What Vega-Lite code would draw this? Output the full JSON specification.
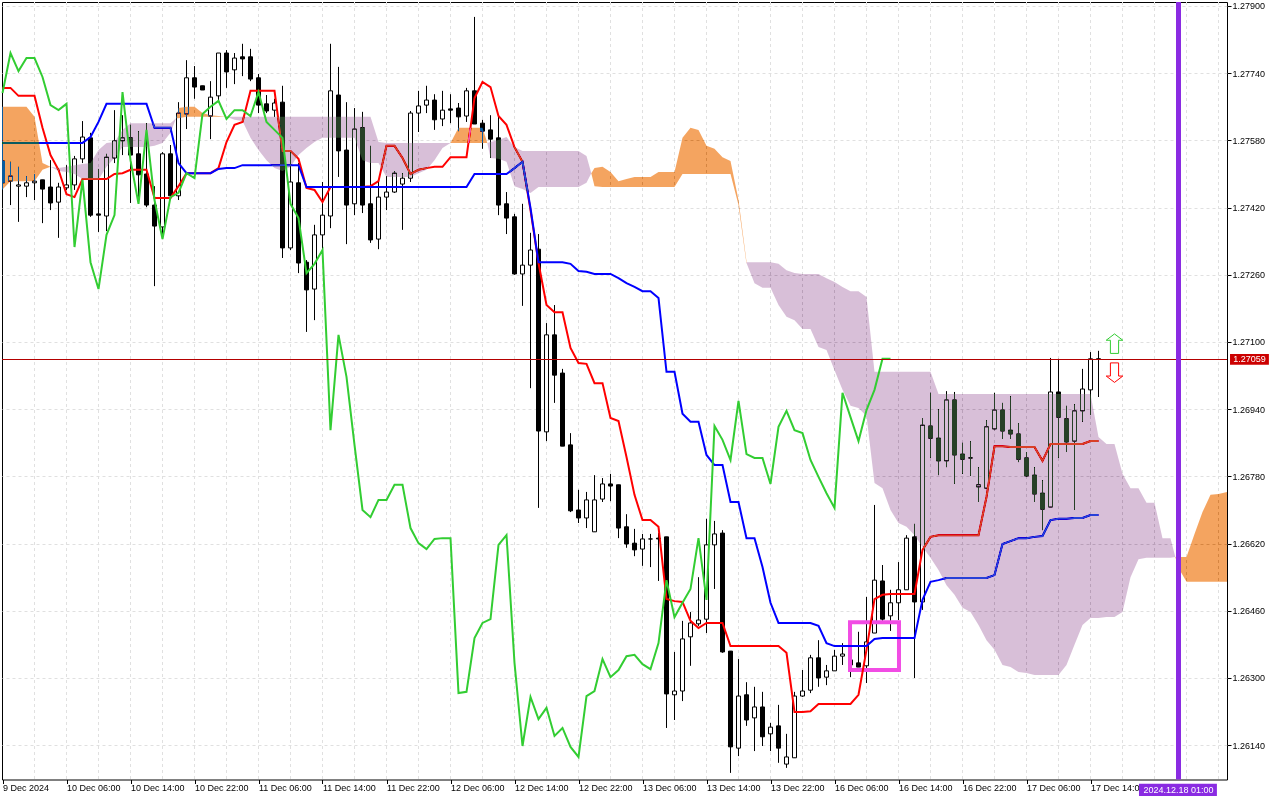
{
"$schema":"https://vega.github.io/schema/vega-lite/v6.json",
"description":"GBP style H1 candles with Ichimoku cloud, recreated from a trading terminal screenshot.",
"width":1225,"height":777.5,
"autosize":"none",
"padding":{"left":2,"top":2,"right":53,"bottom":20.5},
"background":"white",
"view":{"stroke":"black","strokeWidth":1},
"config":{"font":"Liberation Sans","axis":{"labelFont":"Liberation Sans","labelFontSize":9,"labelColor":"black","tickColor":"black"}},
"datasets":{
"candles":[
{"i":-1,"o":1.27531,"h":1.27531,"l":1.27479,"c":1.27479},
{"i":0,"o":1.27483,"h":1.27529,"l":1.27426,"c":1.27495},
{"i":1,"o":1.27471,"h":1.27517,"l":1.27386,"c":1.27474},
{"i":2,"o":1.27471,"h":1.27495,"l":1.27445,"c":1.27479},
{"i":3,"o":1.27479,"h":1.275,"l":1.27438,"c":1.27483},
{"i":4,"o":1.27486,"h":1.27486,"l":1.27383,"c":1.27464},
{"i":5,"o":1.27469,"h":1.27533,"l":1.27414,"c":1.27431},
{"i":6,"o":1.27433,"h":1.27479,"l":1.27348,"c":1.27469},
{"i":7,"o":1.27467,"h":1.27521,"l":1.27462,"c":1.27474},
{"i":8,"o":1.27474,"h":1.27543,"l":1.27462,"c":1.27536},
{"i":9,"o":1.27536,"h":1.27626,"l":1.27526,"c":1.27588},
{"i":10,"o":1.27586,"h":1.27598,"l":1.27398,"c":1.27402},
{"i":11,"o":1.27405,"h":1.27512,"l":1.27362,"c":1.27402},
{"i":12,"o":1.274,"h":1.27548,"l":1.27364,"c":1.2754},
{"i":13,"o":1.27538,"h":1.27652,"l":1.27526,"c":1.27579},
{"i":14,"o":1.27579,"h":1.2764,"l":1.27545,"c":1.27586},
{"i":15,"o":1.27586,"h":1.27617,"l":1.27431,"c":1.27545},
{"i":16,"o":1.27548,"h":1.27602,"l":1.27429,"c":1.27498},
{"i":17,"o":1.275,"h":1.27621,"l":1.27421,"c":1.27426},
{"i":18,"o":1.27426,"h":1.27471,"l":1.27233,"c":1.27376},
{"i":19,"o":1.27374,"h":1.27552,"l":1.27345,"c":1.27548},
{"i":20,"o":1.27548,"h":1.27569,"l":1.27445,"c":1.27448},
{"i":21,"o":1.27448,"h":1.27671,"l":1.27438,"c":1.27645},
{"i":22,"o":1.27643,"h":1.27771,"l":1.27607,"c":1.27729},
{"i":23,"o":1.27729,"h":1.27757,"l":1.27679,"c":1.27707},
{"i":24,"o":1.2771,"h":1.2771,"l":1.277,"c":1.277},
{"i":25,"o":1.27638,"h":1.27721,"l":1.27583,"c":1.27683},
{"i":26,"o":1.27686,"h":1.27788,"l":1.27676,"c":1.27788},
{"i":27,"o":1.27788,"h":1.27795,"l":1.27705,"c":1.27743},
{"i":28,"o":1.27748,"h":1.27788,"l":1.27714,"c":1.27776},
{"i":29,"o":1.27779,"h":1.2781,"l":1.27733,"c":1.27774},
{"i":30,"o":1.27779,"h":1.27798,"l":1.27721,"c":1.27726},
{"i":31,"o":1.27729,"h":1.27738,"l":1.27645,"c":1.27664},
{"i":32,"o":1.27667,"h":1.27688,"l":1.27645,"c":1.2765},
{"i":33,"o":1.27652,"h":1.27679,"l":1.27636,"c":1.27669},
{"i":34,"o":1.27671,"h":1.2771,"l":1.273,"c":1.27324},
{"i":35,"o":1.27324,"h":1.27552,"l":1.27319,"c":1.27481},
{"i":36,"o":1.27479,"h":1.27526,"l":1.27264,"c":1.27288},
{"i":37,"o":1.2729,"h":1.27295,"l":1.27124,"c":1.27224},
{"i":38,"o":1.27226,"h":1.27379,"l":1.27152,"c":1.27355},
{"i":39,"o":1.27355,"h":1.27481,"l":1.27319,"c":1.27402},
{"i":40,"o":1.274,"h":1.2781,"l":1.27371,"c":1.27698},
{"i":41,"o":1.27688,"h":1.27755,"l":1.27493,"c":1.27555},
{"i":42,"o":1.27557,"h":1.27671,"l":1.27333,"c":1.27426},
{"i":43,"o":1.27429,"h":1.27657,"l":1.27402,"c":1.27607},
{"i":44,"o":1.2761,"h":1.27648,"l":1.27407,"c":1.27426},
{"i":45,"o":1.27429,"h":1.27567,"l":1.27336,"c":1.27343},
{"i":46,"o":1.27345,"h":1.27483,"l":1.27321,"c":1.27445},
{"i":47,"o":1.27445,"h":1.27495,"l":1.27414,"c":1.27457},
{"i":48,"o":1.27457,"h":1.27507,"l":1.27455,"c":1.27502},
{"i":49,"o":1.27476,"h":1.27502,"l":1.27367,"c":1.2749},
{"i":50,"o":1.2749,"h":1.2765,"l":1.27481,"c":1.27645},
{"i":51,"o":1.27645,"h":1.27698,"l":1.276,"c":1.27662},
{"i":52,"o":1.27664,"h":1.2771,"l":1.27645,"c":1.27676},
{"i":53,"o":1.27676,"h":1.2769,"l":1.27605,"c":1.27629},
{"i":54,"o":1.27631,"h":1.27698,"l":1.27614,"c":1.27652},
{"i":55,"o":1.27655,"h":1.2769,"l":1.27621,"c":1.27652},
{"i":56,"o":1.27657,"h":1.27669,"l":1.27602,"c":1.27636},
{"i":57,"o":1.27638,"h":1.27705,"l":1.27624,"c":1.27698},
{"i":58,"o":1.27698,"h":1.27874,"l":1.27619,"c":1.27619},
{"i":59,"o":1.27621,"h":1.27629,"l":1.2756,"c":1.27602},
{"i":60,"o":1.27605,"h":1.2764,"l":1.27538,"c":1.27583},
{"i":61,"o":1.27586,"h":1.27636,"l":1.27402,"c":1.27426},
{"i":62,"o":1.27429,"h":1.27457,"l":1.27357,"c":1.27395},
{"i":63,"o":1.27398,"h":1.27405,"l":1.2726,"c":1.27262},
{"i":64,"o":1.27262,"h":1.27429,"l":1.27186,"c":1.27283},
{"i":65,"o":1.27283,"h":1.2736,"l":1.2699,"c":1.27319},
{"i":66,"o":1.27321,"h":1.27357,"l":1.26705,"c":1.26888},
{"i":67,"o":1.26886,"h":1.27145,"l":1.26864,"c":1.27117},
{"i":68,"o":1.27117,"h":1.27188,"l":1.26955,"c":1.27021},
{"i":69,"o":1.27026,"h":1.27036,"l":1.26852,"c":1.26852},
{"i":70,"o":1.26855,"h":1.26883,"l":1.26695,"c":1.26698},
{"i":71,"o":1.267,"h":1.26748,"l":1.26669,"c":1.26681},
{"i":72,"o":1.26681,"h":1.26743,"l":1.26657,"c":1.26724},
{"i":73,"o":1.26648,"h":1.26783,"l":1.26648,"c":1.26724},
{"i":74,"o":1.26726,"h":1.26776,"l":1.26719,"c":1.26762},
{"i":75,"o":1.26762,"h":1.26786,"l":1.26721,"c":1.26757},
{"i":76,"o":1.2676,"h":1.2676,"l":1.26633,"c":1.26657},
{"i":77,"o":1.2666,"h":1.2669,"l":1.2661,"c":1.26619},
{"i":78,"o":1.26621,"h":1.26655,"l":1.2659,"c":1.26605},
{"i":79,"o":1.26607,"h":1.26643,"l":1.26567,"c":1.26631},
{"i":80,"o":1.26631,"h":1.26643,"l":1.26564,"c":1.26631},
{"i":81,"o":1.26633,"h":1.26645,"l":1.26531,"c":1.26631},
{"i":82,"o":1.26636,"h":1.26636,"l":1.26181,"c":1.26262},
{"i":83,"o":1.2626,"h":1.26362,"l":1.262,"c":1.26269},
{"i":84,"o":1.26269,"h":1.26436,"l":1.26245,"c":1.26393},
{"i":85,"o":1.26398,"h":1.26457,"l":1.26329,"c":1.26431},
{"i":86,"o":1.26429,"h":1.2654,"l":1.26424,"c":1.26438},
{"i":87,"o":1.2644,"h":1.26679,"l":1.26407,"c":1.26617},
{"i":88,"o":1.26617,"h":1.26674,"l":1.26512,"c":1.26643},
{"i":89,"o":1.26645,"h":1.26652,"l":1.2636,"c":1.26362},
{"i":90,"o":1.26364,"h":1.26364,"l":1.26074,"c":1.26136},
{"i":91,"o":1.26133,"h":1.26345,"l":1.26114,"c":1.26257},
{"i":92,"o":1.2626,"h":1.2629,"l":1.26186,"c":1.262},
{"i":93,"o":1.26205,"h":1.26279,"l":1.26126,"c":1.26231},
{"i":94,"o":1.26231,"h":1.26267,"l":1.26138,"c":1.2616},
{"i":95,"o":1.26167,"h":1.26193,"l":1.26126,"c":1.26183},
{"i":96,"o":1.26186,"h":1.26236,"l":1.26098,"c":1.26133},
{"i":97,"o":1.26095,"h":1.26167,"l":1.26086,"c":1.26112},
{"i":98,"o":1.2611,"h":1.26267,"l":1.2611,"c":1.26257},
{"i":99,"o":1.26257,"h":1.26319,"l":1.26255,"c":1.26269},
{"i":100,"o":1.26271,"h":1.26355,"l":1.26264,"c":1.26348},
{"i":101,"o":1.26348,"h":1.2639,"l":1.26279,"c":1.263},
{"i":102,"o":1.26302,"h":1.26331,"l":1.26283,"c":1.26317},
{"i":103,"o":1.26317,"h":1.26367,"l":1.26317,"c":1.26352},
{"i":104,"o":1.26352,"h":1.26383,"l":1.26331,"c":1.26357},
{"i":105,"o":1.26343,"h":1.26379,"l":1.26302,"c":1.26331},
{"i":106,"o":1.26336,"h":1.2641,"l":1.26326,"c":1.26326},
{"i":107,"o":1.26329,"h":1.26493,"l":1.26288,"c":1.26386},
{"i":108,"o":1.26407,"h":1.26712,"l":1.26407,"c":1.26533},
{"i":109,"o":1.26531,"h":1.26569,"l":1.26436,"c":1.2644},
{"i":110,"o":1.26448,"h":1.2651,"l":1.26412,"c":1.26479},
{"i":111,"o":1.26479,"h":1.26576,"l":1.26438,"c":1.2651},
{"i":112,"o":1.2651,"h":1.2664,"l":1.2651,"c":1.26633},
{"i":113,"o":1.26636,"h":1.26667,"l":1.263,"c":1.26481},
{"i":114,"o":1.26481,"h":1.26919,"l":1.26462,"c":1.26902},
{"i":115,"o":1.269,"h":1.26979,"l":1.26824,"c":1.26871},
{"i":116,"o":1.26871,"h":1.2694,"l":1.26783,"c":1.26817},
{"i":117,"o":1.26817,"h":1.26983,"l":1.26802,"c":1.26962},
{"i":118,"o":1.26962,"h":1.26981,"l":1.26762,"c":1.26831},
{"i":119,"o":1.26833,"h":1.2686,"l":1.26786,"c":1.26821},
{"i":120,"o":1.26824,"h":1.26864,"l":1.26781,"c":1.26824},
{"i":121,"o":1.26755,"h":1.26802,"l":1.26719,"c":1.2676},
{"i":122,"o":1.26752,"h":1.26914,"l":1.26752,"c":1.26898},
{"i":123,"o":1.26893,"h":1.26979,"l":1.2689,"c":1.26938},
{"i":124,"o":1.26938,"h":1.26955,"l":1.26869,"c":1.26888},
{"i":125,"o":1.2689,"h":1.26971,"l":1.26869,"c":1.26881},
{"i":126,"o":1.26881,"h":1.26907,"l":1.26814,"c":1.26821},
{"i":127,"o":1.26824,"h":1.26838,"l":1.26779,"c":1.26781},
{"i":128,"o":1.26783,"h":1.26802,"l":1.26719,"c":1.26738},
{"i":129,"o":1.2674,"h":1.26771,"l":1.26652,"c":1.26702},
{"i":130,"o":1.26707,"h":1.27062,"l":1.26707,"c":1.26981},
{"i":131,"o":1.26981,"h":1.2706,"l":1.26824,"c":1.26921},
{"i":132,"o":1.26917,"h":1.26948,"l":1.26838,"c":1.26862},
{"i":133,"o":1.26864,"h":1.26952,"l":1.267,"c":1.26936},
{"i":134,"o":1.26936,"h":1.27036,"l":1.2691,"c":1.26988},
{"i":135,"o":1.26986,"h":1.27076,"l":1.26926,"c":1.2706},
{"i":136,"o":1.2706,"h":1.27079,"l":1.26969,"c":1.27059}
],
"tenkan":[
{"i":-1,"v":1.27705},{"i":0,"v":1.27705},{"i":1,"v":1.27686},{"i":2,"v":1.27686},{"i":3,"v":1.27686},{"i":4,"v":1.2761},{"i":5,"v":1.27545},{"i":6,"v":1.2751},{"i":7,"v":1.27452},{"i":8,"v":1.27445},{"i":9,"v":1.27488},{"i":10,"v":1.27488},{"i":11,"v":1.27488},{"i":12,"v":1.27488},{"i":13,"v":1.275},{"i":14,"v":1.27502},{"i":15,"v":1.2751},{"i":16,"v":1.2751},{"i":17,"v":1.2751},{"i":18,"v":1.27443},{"i":19,"v":1.27443},{"i":20,"v":1.27443},{"i":21,"v":1.27471},{"i":22,"v":1.27502},{"i":23,"v":1.27502},{"i":24,"v":1.27502},{"i":25,"v":1.27502},{"i":26,"v":1.27514},{"i":27,"v":1.27576},{"i":28,"v":1.27617},{"i":29,"v":1.27624},{"i":30,"v":1.27698},{"i":31,"v":1.27698},{"i":32,"v":1.27698},{"i":33,"v":1.27698},{"i":34,"v":1.27555},{"i":35,"v":1.27555},{"i":36,"v":1.27536},{"i":37,"v":1.27467},{"i":38,"v":1.27462},{"i":39,"v":1.27433},{"i":40,"v":1.27469},{"i":41,"v":1.27469},{"i":42,"v":1.27469},{"i":43,"v":1.27469},{"i":44,"v":1.27469},{"i":45,"v":1.27471},{"i":46,"v":1.27483},{"i":47,"v":1.27567},{"i":48,"v":1.27567},{"i":49,"v":1.27538},{"i":50,"v":1.275},{"i":51,"v":1.2751},{"i":52,"v":1.27514},{"i":53,"v":1.27517},{"i":54,"v":1.27517},{"i":55,"v":1.2754},{"i":56,"v":1.2754},{"i":57,"v":1.2754},{"i":58,"v":1.27681},{"i":59,"v":1.27719},{"i":60,"v":1.27707},{"i":61,"v":1.27638},{"i":62,"v":1.27617},{"i":63,"v":1.27564},{"i":64,"v":1.27529},{"i":65,"v":1.27414},{"i":66,"v":1.27288},{"i":67,"v":1.27188},{"i":68,"v":1.27171},{"i":69,"v":1.27171},{"i":70,"v":1.27086},{"i":71,"v":1.2705},{"i":72,"v":1.27048},{"i":73,"v":1.27002},{"i":74,"v":1.27002},{"i":75,"v":1.26919},{"i":76,"v":1.26912},{"i":77,"v":1.26826},{"i":78,"v":1.26736},{"i":79,"v":1.26676},{"i":80,"v":1.26676},{"i":81,"v":1.2666},{"i":82,"v":1.26488},{"i":83,"v":1.26483},{"i":84,"v":1.26481},{"i":85,"v":1.26436},{"i":86,"v":1.26419},{"i":87,"v":1.26431},{"i":88,"v":1.26431},{"i":89,"v":1.26431},{"i":90,"v":1.26376},{"i":91,"v":1.26376},{"i":92,"v":1.26376},{"i":93,"v":1.26376},{"i":94,"v":1.26376},{"i":95,"v":1.26376},{"i":96,"v":1.26376},{"i":97,"v":1.2636},{"i":98,"v":1.26219},{"i":99,"v":1.26219},{"i":100,"v":1.26221},{"i":101,"v":1.26238},{"i":102,"v":1.26238},{"i":103,"v":1.26238},{"i":104,"v":1.26238},{"i":105,"v":1.26238},{"i":106,"v":1.2626},{"i":107,"v":1.26367},{"i":108,"v":1.26488},{"i":109,"v":1.26498},{"i":110,"v":1.265},{"i":111,"v":1.265},{"i":112,"v":1.265},{"i":113,"v":1.265},{"i":114,"v":1.26605},{"i":115,"v":1.26636},{"i":116,"v":1.2664},{"i":117,"v":1.2664},{"i":118,"v":1.2664},{"i":119,"v":1.2664},{"i":120,"v":1.2664},{"i":121,"v":1.2664},{"i":122,"v":1.26731},{"i":123,"v":1.26852},{"i":124,"v":1.26852},{"i":125,"v":1.2685},{"i":126,"v":1.2685},{"i":127,"v":1.2685},{"i":128,"v":1.2685},{"i":129,"v":1.26817},{"i":130,"v":1.26857},{"i":131,"v":1.26857},{"i":132,"v":1.26857},{"i":133,"v":1.26857},{"i":134,"v":1.26857},{"i":135,"v":1.26864},{"i":136,"v":1.26864}
],
"kijun":[
{"i":-1,"v":1.27574},{"i":0,"v":1.27574},{"i":1,"v":1.27574},{"i":2,"v":1.27574},{"i":3,"v":1.27574},{"i":4,"v":1.27574},{"i":5,"v":1.27574},{"i":6,"v":1.27574},{"i":7,"v":1.27574},{"i":8,"v":1.27574},{"i":9,"v":1.27574},{"i":10,"v":1.27588},{"i":11,"v":1.27624},{"i":12,"v":1.27667},{"i":13,"v":1.27667},{"i":14,"v":1.27667},{"i":15,"v":1.27667},{"i":16,"v":1.27667},{"i":17,"v":1.27667},{"i":18,"v":1.2761},{"i":19,"v":1.2761},{"i":20,"v":1.2761},{"i":21,"v":1.27526},{"i":22,"v":1.27502},{"i":23,"v":1.27502},{"i":24,"v":1.27502},{"i":25,"v":1.27502},{"i":26,"v":1.27512},{"i":27,"v":1.27514},{"i":28,"v":1.27514},{"i":29,"v":1.27521},{"i":30,"v":1.27521},{"i":31,"v":1.27521},{"i":32,"v":1.27521},{"i":33,"v":1.27521},{"i":34,"v":1.27521},{"i":35,"v":1.27521},{"i":36,"v":1.27521},{"i":37,"v":1.27469},{"i":38,"v":1.27469},{"i":39,"v":1.27469},{"i":40,"v":1.27469},{"i":41,"v":1.27469},{"i":42,"v":1.27469},{"i":43,"v":1.27469},{"i":44,"v":1.27469},{"i":45,"v":1.27469},{"i":46,"v":1.27469},{"i":47,"v":1.27469},{"i":48,"v":1.27469},{"i":49,"v":1.27469},{"i":50,"v":1.27469},{"i":51,"v":1.27469},{"i":52,"v":1.27469},{"i":53,"v":1.27469},{"i":54,"v":1.27469},{"i":55,"v":1.27469},{"i":56,"v":1.27469},{"i":57,"v":1.27469},{"i":58,"v":1.275},{"i":59,"v":1.275},{"i":60,"v":1.275},{"i":61,"v":1.275},{"i":62,"v":1.275},{"i":63,"v":1.27514},{"i":64,"v":1.27529},{"i":65,"v":1.27419},{"i":66,"v":1.2729},{"i":67,"v":1.2729},{"i":68,"v":1.2729},{"i":69,"v":1.2729},{"i":70,"v":1.27286},{"i":71,"v":1.27269},{"i":72,"v":1.27267},{"i":73,"v":1.27262},{"i":74,"v":1.27262},{"i":75,"v":1.27262},{"i":76,"v":1.27252},{"i":77,"v":1.2724},{"i":78,"v":1.27231},{"i":79,"v":1.27221},{"i":80,"v":1.27221},{"i":81,"v":1.27205},{"i":82,"v":1.27029},{"i":83,"v":1.27029},{"i":84,"v":1.26929},{"i":85,"v":1.2691},{"i":86,"v":1.2691},{"i":87,"v":1.26831},{"i":88,"v":1.26807},{"i":89,"v":1.26807},{"i":90,"v":1.26719},{"i":91,"v":1.26719},{"i":92,"v":1.26633},{"i":93,"v":1.26633},{"i":94,"v":1.26564},{"i":95,"v":1.26479},{"i":96,"v":1.26431},{"i":97,"v":1.26431},{"i":98,"v":1.26431},{"i":99,"v":1.26431},{"i":100,"v":1.26431},{"i":101,"v":1.26424},{"i":102,"v":1.26383},{"i":103,"v":1.26376},{"i":104,"v":1.26376},{"i":105,"v":1.26376},{"i":106,"v":1.26376},{"i":107,"v":1.26376},{"i":108,"v":1.26393},{"i":109,"v":1.26395},{"i":110,"v":1.26395},{"i":111,"v":1.26395},{"i":112,"v":1.26395},{"i":113,"v":1.26395},{"i":114,"v":1.26486},{"i":115,"v":1.26529},{"i":116,"v":1.26533},{"i":117,"v":1.26538},{"i":118,"v":1.26538},{"i":119,"v":1.26538},{"i":120,"v":1.26538},{"i":121,"v":1.26538},{"i":122,"v":1.26538},{"i":123,"v":1.26545},{"i":124,"v":1.26619},{"i":125,"v":1.26626},{"i":126,"v":1.26633},{"i":127,"v":1.26633},{"i":128,"v":1.26636},{"i":129,"v":1.26638},{"i":130,"v":1.26676},{"i":131,"v":1.26679},{"i":132,"v":1.26679},{"i":133,"v":1.26681},{"i":134,"v":1.26681},{"i":135,"v":1.26688},{"i":136,"v":1.26688}
],
"chikou":[
{"i":-1,"v":1.27693},{"i":0,"v":1.27788},{"i":1,"v":1.27745},{"i":2,"v":1.27776},{"i":3,"v":1.27776},{"i":4,"v":1.27731},{"i":5,"v":1.27664},{"i":6,"v":1.27652},{"i":7,"v":1.27667},{"i":8,"v":1.27326},{"i":9,"v":1.27486},{"i":10,"v":1.2729},{"i":11,"v":1.27226},{"i":12,"v":1.27355},{"i":13,"v":1.27402},{"i":14,"v":1.27695},{"i":15,"v":1.27533},{"i":16,"v":1.27429},{"i":17,"v":1.27605},{"i":18,"v":1.27438},{"i":19,"v":1.27345},{"i":20,"v":1.27445},{"i":21,"v":1.27455},{"i":22,"v":1.27502},{"i":23,"v":1.2749},{"i":24,"v":1.27643},{"i":25,"v":1.2766},{"i":26,"v":1.27674},{"i":27,"v":1.27631},{"i":28,"v":1.27652},{"i":29,"v":1.27652},{"i":30,"v":1.27638},{"i":31,"v":1.27695},{"i":32,"v":1.27624},{"i":33,"v":1.27605},{"i":34,"v":1.27586},{"i":35,"v":1.27429},{"i":36,"v":1.27395},{"i":37,"v":1.27264},{"i":38,"v":1.27286},{"i":39,"v":1.27319},{"i":40,"v":1.2689},{"i":41,"v":1.27117},{"i":42,"v":1.27017},{"i":43,"v":1.26855},{"i":44,"v":1.267},{"i":45,"v":1.26683},{"i":46,"v":1.26724},{"i":47,"v":1.26724},{"i":48,"v":1.2676},{"i":49,"v":1.2676},{"i":50,"v":1.26657},{"i":51,"v":1.26621},{"i":52,"v":1.26607},{"i":53,"v":1.26631},{"i":54,"v":1.26633},{"i":55,"v":1.26633},{"i":56,"v":1.26264},{"i":57,"v":1.26267},{"i":58,"v":1.26395},{"i":59,"v":1.26431},{"i":60,"v":1.2644},{"i":61,"v":1.26617},{"i":62,"v":1.2664},{"i":63,"v":1.26336},{"i":64,"v":1.26138},{"i":65,"v":1.26255},{"i":66,"v":1.26202},{"i":67,"v":1.26229},{"i":68,"v":1.26162},{"i":69,"v":1.26181},{"i":70,"v":1.26136},{"i":71,"v":1.26112},{"i":72,"v":1.26257},{"i":73,"v":1.26269},{"i":74,"v":1.26345},{"i":75,"v":1.26302},{"i":76,"v":1.26319},{"i":77,"v":1.26352},{"i":78,"v":1.26355},{"i":79,"v":1.26333},{"i":80,"v":1.26321},{"i":81,"v":1.26383},{"i":82,"v":1.26533},{"i":83,"v":1.26445},{"i":84,"v":1.26479},{"i":85,"v":1.26512},{"i":86,"v":1.26633},{"i":87,"v":1.26486},{"i":88,"v":1.269},{"i":89,"v":1.26867},{"i":90,"v":1.26819},{"i":91,"v":1.2696},{"i":92,"v":1.26833},{"i":93,"v":1.26824},{"i":94,"v":1.26824},{"i":95,"v":1.26762},{"i":96,"v":1.26898},{"i":97,"v":1.26936},{"i":98,"v":1.2689},{"i":99,"v":1.26883},{"i":100,"v":1.26819},{"i":101,"v":1.26779},{"i":102,"v":1.2674},{"i":103,"v":1.26705},{"i":104,"v":1.26979},{"i":105,"v":1.26921},{"i":106,"v":1.26864},{"i":107,"v":1.26938},{"i":108,"v":1.26986},{"i":109,"v":1.2706},{"i":110,"v":1.2706}
],
"cloud":[
{"seg":1,"k":"bull","i":-1.06,"a":1.2766,"b":1.27462},{"seg":1,"k":"bull","i":0,"a":1.2766,"b":1.27483},{"seg":1,"k":"bull","i":1,"a":1.2766,"b":1.27483},{"seg":1,"k":"bull","i":2,"a":1.2766,"b":1.27483},{"seg":1,"k":"bull","i":3,"a":1.27636,"b":1.27483},{"seg":1,"k":"bull","i":4,"a":1.27526,"b":1.2751},{"seg":1,"k":"bull","i":5,"a":1.27517,"b":1.27517},
{"seg":2,"k":"bear","i":5,"a":1.27517,"b":1.27517},{"seg":2,"k":"bear","i":6,"a":1.27514,"b":1.27507},{"seg":2,"k":"bear","i":7,"a":1.27517,"b":1.27505},{"seg":2,"k":"bear","i":8,"a":1.27521,"b":1.275},{"seg":2,"k":"bear","i":9,"a":1.27524,"b":1.27488},{"seg":2,"k":"bear","i":10,"a":1.27526,"b":1.27486},{"seg":2,"k":"bear","i":11,"a":1.27557,"b":1.27486},{"seg":2,"k":"bear","i":12,"a":1.27574,"b":1.27517},{"seg":2,"k":"bear","i":13,"a":1.27576,"b":1.27538},{"seg":2,"k":"bear","i":14,"a":1.27605,"b":1.27564},{"seg":2,"k":"bear","i":15,"a":1.27621,"b":1.27564},{"seg":2,"k":"bear","i":16,"a":1.27621,"b":1.27564},{"seg":2,"k":"bear","i":17,"a":1.27621,"b":1.27564},{"seg":2,"k":"bear","i":18,"a":1.27621,"b":1.27567},{"seg":2,"k":"bear","i":19,"a":1.27621,"b":1.27574},{"seg":2,"k":"bear","i":20,"a":1.27621,"b":1.27598},{"seg":2,"k":"bear","i":20.7,"a":1.27633,"b":1.27633},
{"seg":3,"k":"bull","i":20.7,"a":1.27633,"b":1.27633},{"seg":3,"k":"bull","i":21,"a":1.27657,"b":1.27633},{"seg":3,"k":"bull","i":22,"a":1.2766,"b":1.27636},{"seg":3,"k":"bull","i":23,"a":1.2766,"b":1.27636},{"seg":3,"k":"bull","i":24,"a":1.27645,"b":1.27636},{"seg":3,"k":"bull","i":25,"a":1.2764,"b":1.27636},{"seg":3,"k":"bull","i":26,"a":1.27638,"b":1.27636},{"seg":3,"k":"bull","i":27,"a":1.27636,"b":1.27636},
{"seg":4,"k":"bear","i":27,"a":1.27636,"b":1.27636},{"seg":4,"k":"bear","i":28,"a":1.27636,"b":1.27629},{"seg":4,"k":"bear","i":29,"a":1.27636,"b":1.27626},{"seg":4,"k":"bear","i":30,"a":1.27636,"b":1.27586},{"seg":4,"k":"bear","i":31,"a":1.27636,"b":1.27557},{"seg":4,"k":"bear","i":32,"a":1.27636,"b":1.27533},{"seg":4,"k":"bear","i":33,"a":1.27636,"b":1.27514},{"seg":4,"k":"bear","i":34,"a":1.27636,"b":1.27507},{"seg":4,"k":"bear","i":35,"a":1.27636,"b":1.27517},{"seg":4,"k":"bear","i":36,"a":1.27636,"b":1.27545},{"seg":4,"k":"bear","i":37,"a":1.27636,"b":1.27562},{"seg":4,"k":"bear","i":38,"a":1.27636,"b":1.27576},{"seg":4,"k":"bear","i":39,"a":1.27636,"b":1.27586},{"seg":4,"k":"bear","i":40,"a":1.27636,"b":1.27586},{"seg":4,"k":"bear","i":41,"a":1.27636,"b":1.27586},{"seg":4,"k":"bear","i":42,"a":1.27636,"b":1.27586},{"seg":4,"k":"bear","i":43,"a":1.27636,"b":1.27586},{"seg":4,"k":"bear","i":44,"a":1.27636,"b":1.27533},{"seg":4,"k":"bear","i":45,"a":1.27636,"b":1.27526},{"seg":4,"k":"bear","i":46,"a":1.27576,"b":1.27526},{"seg":4,"k":"bear","i":47,"a":1.27574,"b":1.27493},{"seg":4,"k":"bear","i":48,"a":1.27574,"b":1.27493},{"seg":4,"k":"bear","i":49,"a":1.27574,"b":1.27493},{"seg":4,"k":"bear","i":50,"a":1.27574,"b":1.27493},{"seg":4,"k":"bear","i":51,"a":1.27574,"b":1.27502},{"seg":4,"k":"bear","i":52,"a":1.27574,"b":1.2751},{"seg":4,"k":"bear","i":53,"a":1.27574,"b":1.27533},{"seg":4,"k":"bear","i":54,"a":1.27574,"b":1.27562},{"seg":4,"k":"bear","i":55,"a":1.27574,"b":1.27574},
{"seg":5,"k":"bull","i":55,"a":1.27574,"b":1.27574},{"seg":5,"k":"bull","i":56,"a":1.2761,"b":1.27574},{"seg":5,"k":"bull","i":57,"a":1.2761,"b":1.27574},{"seg":5,"k":"bull","i":58,"a":1.2761,"b":1.27574},{"seg":5,"k":"bull","i":59,"a":1.2761,"b":1.27574},{"seg":5,"k":"bull","i":59.6,"a":1.27574,"b":1.27574},
{"seg":6,"k":"bear","i":59.6,"a":1.27574,"b":1.27574},{"seg":6,"k":"bear","i":60,"a":1.27576,"b":1.27538},{"seg":6,"k":"bear","i":61,"a":1.27581,"b":1.27536},{"seg":6,"k":"bear","i":62,"a":1.27588,"b":1.27529},{"seg":6,"k":"bear","i":63,"a":1.27564,"b":1.27471},{"seg":6,"k":"bear","i":64,"a":1.27555,"b":1.27464},{"seg":6,"k":"bear","i":65,"a":1.27555,"b":1.27455},{"seg":6,"k":"bear","i":66,"a":1.27555,"b":1.27469},{"seg":6,"k":"bear","i":67,"a":1.27555,"b":1.27469},{"seg":6,"k":"bear","i":68,"a":1.27555,"b":1.27469},{"seg":6,"k":"bear","i":69,"a":1.27555,"b":1.27469},{"seg":6,"k":"bear","i":70,"a":1.27555,"b":1.27469},{"seg":6,"k":"bear","i":71,"a":1.27555,"b":1.27469},{"seg":6,"k":"bear","i":72,"a":1.27543,"b":1.27479},{"seg":6,"k":"bear","i":72.6,"a":1.27502,"b":1.27502},
{"seg":7,"k":"bull","i":72.6,"a":1.27502,"b":1.27502},{"seg":7,"k":"bull","i":73,"a":1.27514,"b":1.27471},{"seg":7,"k":"bull","i":74,"a":1.27517,"b":1.27469},{"seg":7,"k":"bull","i":75,"a":1.27505,"b":1.27469},{"seg":7,"k":"bull","i":76,"a":1.27483,"b":1.27469},{"seg":7,"k":"bull","i":77,"a":1.27488,"b":1.27469},{"seg":7,"k":"bull","i":78,"a":1.27493,"b":1.27469},{"seg":7,"k":"bull","i":79,"a":1.27493,"b":1.27469},{"seg":7,"k":"bull","i":80,"a":1.27493,"b":1.27469},{"seg":7,"k":"bull","i":81,"a":1.27505,"b":1.27469},{"seg":7,"k":"bull","i":82,"a":1.27505,"b":1.27469},{"seg":7,"k":"bull","i":83,"a":1.27505,"b":1.27469},{"seg":7,"k":"bull","i":84,"a":1.27586,"b":1.275},{"seg":7,"k":"bull","i":85,"a":1.2761,"b":1.275},{"seg":7,"k":"bull","i":86,"a":1.27605,"b":1.275},{"seg":7,"k":"bull","i":87,"a":1.27567,"b":1.275},{"seg":7,"k":"bull","i":88,"a":1.2756,"b":1.275},{"seg":7,"k":"bull","i":89,"a":1.2754,"b":1.275},{"seg":7,"k":"bull","i":90,"a":1.27531,"b":1.275},{"seg":7,"k":"bull","i":91,"a":1.27438,"b":1.27426},{"seg":7,"k":"bull","i":92,"a":1.27291,"b":1.27286},
{"seg":8,"k":"bear","i":92,"a":1.2729,"b":1.27288},{"seg":8,"k":"bear","i":93,"a":1.2729,"b":1.2724},{"seg":8,"k":"bear","i":94,"a":1.2729,"b":1.27229},{"seg":8,"k":"bear","i":95,"a":1.2729,"b":1.27229},{"seg":8,"k":"bear","i":96,"a":1.27286,"b":1.27188},{"seg":8,"k":"bear","i":97,"a":1.27271,"b":1.2716},{"seg":8,"k":"bear","i":98,"a":1.27264,"b":1.27152},{"seg":8,"k":"bear","i":99,"a":1.27262,"b":1.27131},{"seg":8,"k":"bear","i":100,"a":1.27262,"b":1.27131},{"seg":8,"k":"bear","i":101,"a":1.27262,"b":1.27088},{"seg":8,"k":"bear","i":102,"a":1.27252,"b":1.27081},{"seg":8,"k":"bear","i":103,"a":1.27243,"b":1.27033},{"seg":8,"k":"bear","i":104,"a":1.27231,"b":1.26986},{"seg":8,"k":"bear","i":105,"a":1.27221,"b":1.26948},{"seg":8,"k":"bear","i":106,"a":1.27221,"b":1.26943},{"seg":8,"k":"bear","i":107,"a":1.27207,"b":1.26924},{"seg":8,"k":"bear","i":108,"a":1.27029,"b":1.26764},{"seg":8,"k":"bear","i":109,"a":1.27029,"b":1.26752},{"seg":8,"k":"bear","i":110,"a":1.27029,"b":1.267},{"seg":8,"k":"bear","i":111,"a":1.27029,"b":1.26669},{"seg":8,"k":"bear","i":112,"a":1.27029,"b":1.2666},{"seg":8,"k":"bear","i":113,"a":1.27029,"b":1.2664},{"seg":8,"k":"bear","i":114,"a":1.27029,"b":1.26612},{"seg":8,"k":"bear","i":115,"a":1.27029,"b":1.26586},{"seg":8,"k":"bear","i":116,"a":1.26976,"b":1.26557},{"seg":8,"k":"bear","i":117,"a":1.26976,"b":1.26521},{"seg":8,"k":"bear","i":118,"a":1.26976,"b":1.26498},{"seg":8,"k":"bear","i":119,"a":1.26976,"b":1.26467},{"seg":8,"k":"bear","i":120,"a":1.26976,"b":1.26457},{"seg":8,"k":"bear","i":121,"a":1.26976,"b":1.26426},{"seg":8,"k":"bear","i":122,"a":1.26976,"b":1.2639},{"seg":8,"k":"bear","i":123,"a":1.26976,"b":1.26367},{"seg":8,"k":"bear","i":124,"a":1.26976,"b":1.26331},{"seg":8,"k":"bear","i":125,"a":1.26976,"b":1.26326},{"seg":8,"k":"bear","i":126,"a":1.26976,"b":1.26314},{"seg":8,"k":"bear","i":127,"a":1.26976,"b":1.26312},{"seg":8,"k":"bear","i":128,"a":1.26976,"b":1.26307},{"seg":8,"k":"bear","i":129,"a":1.26976,"b":1.26307},{"seg":8,"k":"bear","i":130,"a":1.26976,"b":1.26307},{"seg":8,"k":"bear","i":131,"a":1.26976,"b":1.26307},{"seg":8,"k":"bear","i":132,"a":1.26976,"b":1.26331},{"seg":8,"k":"bear","i":133,"a":1.26976,"b":1.26379},{"seg":8,"k":"bear","i":134,"a":1.26976,"b":1.26426},{"seg":8,"k":"bear","i":135,"a":1.26976,"b":1.26443},{"seg":8,"k":"bear","i":136,"a":1.26874,"b":1.26443},{"seg":8,"k":"bear","i":137,"a":1.26857,"b":1.26445},{"seg":8,"k":"bear","i":138,"a":1.26857,"b":1.26445},{"seg":8,"k":"bear","i":139,"a":1.26786,"b":1.26457},{"seg":8,"k":"bear","i":140,"a":1.26752,"b":1.2654},{"seg":8,"k":"bear","i":141,"a":1.26752,"b":1.26583},{"seg":8,"k":"bear","i":142,"a":1.26717,"b":1.26586},{"seg":8,"k":"bear","i":143,"a":1.26717,"b":1.26586},{"seg":8,"k":"bear","i":144,"a":1.26633,"b":1.26586},{"seg":8,"k":"bear","i":145,"a":1.26633,"b":1.26586},{"seg":8,"k":"bear","i":145.6,"a":1.26588,"b":1.26588},
{"seg":9,"k":"bull","i":145.6,"a":1.26588,"b":1.26588},{"seg":9,"k":"bull","i":146,"a":1.26588,"b":1.26562},{"seg":9,"k":"bull","i":147,"a":1.26588,"b":1.26529},{"seg":9,"k":"bull","i":148,"a":1.26643,"b":1.26529},{"seg":9,"k":"bull","i":149,"a":1.26695,"b":1.26529},{"seg":9,"k":"bull","i":150,"a":1.26736,"b":1.26529},{"seg":9,"k":"bull","i":151,"a":1.26738,"b":1.26529},{"seg":9,"k":"bull","i":152.06,"a":1.26743,"b":1.26529}
],
"vgrid":[{"i":3},{"i":7},{"i":11},{"i":15},{"i":19},{"i":23},{"i":27},{"i":31},{"i":35},{"i":39},{"i":43},{"i":47},{"i":51},{"i":55},{"i":59},{"i":63},{"i":67},{"i":71},{"i":75},{"i":79},{"i":83},{"i":87},{"i":91},{"i":95},{"i":99},{"i":103},{"i":107},{"i":111},{"i":115},{"i":119},{"i":123},{"i":127},{"i":131},{"i":135},{"i":139},{"i":143},{"i":147},{"i":151}]
},
"encoding":{
"x":{"field":"i","type":"quantitative","title":null,
"scale":{"domain":[-1.0625,152.0625],"nice":false,"zero":false,"padding":0},
"axis":{"values":[-1,7,15,23,31,39,47,55,63,71,79,87,95,103,111,119,127,135],"grid":false,"domain":false,"tickSize":4,"labelAlign":"left","labelPadding":0,"labelOverlap":false,"labelFlush":false,"labelBound":false,
"labelExpr":"{'-1':'9 Dec 2024','7':'10 Dec 06:00','15':'10 Dec 14:00','23':'10 Dec 22:00','31':'11 Dec 06:00','39':'11 Dec 14:00','47':'11 Dec 22:00','55':'12 Dec 06:00','63':'12 Dec 14:00','71':'12 Dec 22:00','79':'13 Dec 06:00','87':'13 Dec 14:00','95':'13 Dec 22:00','103':'16 Dec 06:00','111':'16 Dec 14:00','119':'16 Dec 22:00','127':'17 Dec 06:00','135':'17 Dec 14:00'}[datum.value]"}}
},
"layer":[
{"data":{"name":"vgrid"},"mark":{"type":"rule","color":"#e0e0e0","strokeWidth":1,"strokeDash":[3,3]},"encoding":{}},
{"data":{"name":"candles"},"mark":{"type":"rule","color":"black","strokeWidth":1},
"encoding":{"y":{"field":"l","type":"quantitative","title":null,
"scale":{"domain":[1.260583,1.279095],"nice":false,"zero":false},
"axis":{"orient":"right","values":[1.279,1.2782,1.2774,1.2766,1.2758,1.275,1.2742,1.2734,1.2726,1.2718,1.271,1.2702,1.2694,1.2686,1.2678,1.267,1.2662,1.2654,1.2646,1.2638,1.263,1.2622,1.2614],"format":".5f","grid":true,"gridColor":"#e0e0e0","gridDash":[3,3],"domain":false,"tickSize":4,"labelPadding":1,"labelOverlap":false,"labelFlush":false,"labelBound":false}},
"y2":{"field":"h"}}},
{"data":{"name":"candles"},"mark":{"type":"bar","size":4,"stroke":"black","strokeWidth":1,"clip":true,"orient":"vertical"},
"encoding":{"y":{"field":"o","type":"quantitative","title":null},"y2":{"field":"c"},
"fill":{"condition":{"test":"datum.c>=datum.o","value":"white"},"value":"black"}}},
{"data":{"values":[{"i":104.94,"i2":111.06,"p":1.26433,"p2":1.26319}]},"mark":{"type":"rect","fill":null,"stroke":"#f14ce4","strokeWidth":4},
"encoding":{"x2":{"field":"i2"},"y":{"field":"p","type":"quantitative","title":null},"y2":{"field":"p2"}}},
{"data":{"name":"tenkan"},"mark":{"type":"line","color":"#ff0000","strokeWidth":2},"encoding":{"y":{"field":"v","type":"quantitative","title":null}}},
{"data":{"name":"kijun"},"mark":{"type":"line","color":"#0000ff","strokeWidth":2},"encoding":{"y":{"field":"v","type":"quantitative","title":null}}},
{"data":{"name":"cloud"},"mark":{"type":"area","blend":"difference","opacity":1},
"encoding":{"y":{"field":"a","type":"quantitative","title":null,"stack":null},"y2":{"field":"b"},"detail":{"field":"seg"},
"color":{"field":"k","type":"nominal","scale":{"domain":["bull","bear"],"range":["#0b5b9f","#274027"]},"legend":null}}},
{"data":{"name":"chikou"},"mark":{"type":"line","color":"#32cd32","strokeWidth":2},"encoding":{"y":{"field":"v","type":"quantitative","title":null}}},
{"data":{"values":[{"p":1.270583}]},"mark":{"type":"rule","color":"#b40000","strokeWidth":1},"encoding":{"x":null,"y":{"field":"p","type":"quantitative","title":null}}},
{"data":{"values":[{"i":146}]},"mark":{"type":"rule","color":"#8a2be2","strokeWidth":5},"encoding":{}},
{"data":{"values":[{"i":138,"p":1.27096,"dir":"buy"},{"i":138,"p":1.27027,"dir":"sell"}]},"mark":{"type":"point","filled":false,"fill":"white","fillOpacity":1,"strokeWidth":1,"size":380,"opacity":1},
"encoding":{"y":{"field":"p","type":"quantitative","title":null},
"shape":{"field":"dir","type":"nominal","scale":{"domain":["buy","sell"],"range":["M0,-1L0.85,-0.35L0.42,-0.35L0.42,1L-0.42,1L-0.42,-0.35L-0.85,-0.35Z","M0,1L0.85,0.35L0.42,0.35L0.42,-1L-0.42,-1L-0.42,0.35L-0.85,0.35Z"]},"legend":null},
"stroke":{"field":"dir","type":"nominal","scale":{"domain":["buy","sell"],"range":["#32cd32","#ff0000"]},"legend":null}}},
{"data":{"values":[{"i":152.44,"i2":157.3,"p":1.270714,"p2":1.27046}]},"mark":{"type":"rect","color":"#cc0000"},"encoding":{"x2":{"field":"i2"},"y":{"field":"p","type":"quantitative","title":null},"y2":{"field":"p2"}}},
{"data":{"values":[{"i":141.06,"i2":150.8,"p":1.26048,"p2":1.26019}]},"mark":{"type":"rect","color":"#8a2be2"},"encoding":{"x2":{"field":"i2"},"y":{"field":"p","type":"quantitative","title":null},"y2":{"field":"p2"}}},
{"data":{"values":[{"i":154.875,"p":1.27059,"t":"1.27059"},{"i":146,"p":1.26033,"t":"2024.12.18 01:00"}]},"mark":{"type":"text","color":"white","font":"Liberation Sans","fontSize":9,"baseline":"middle","align":"center"},
"encoding":{"y":{"field":"p","type":"quantitative","title":null},"text":{"field":"t"}}}
]
}
